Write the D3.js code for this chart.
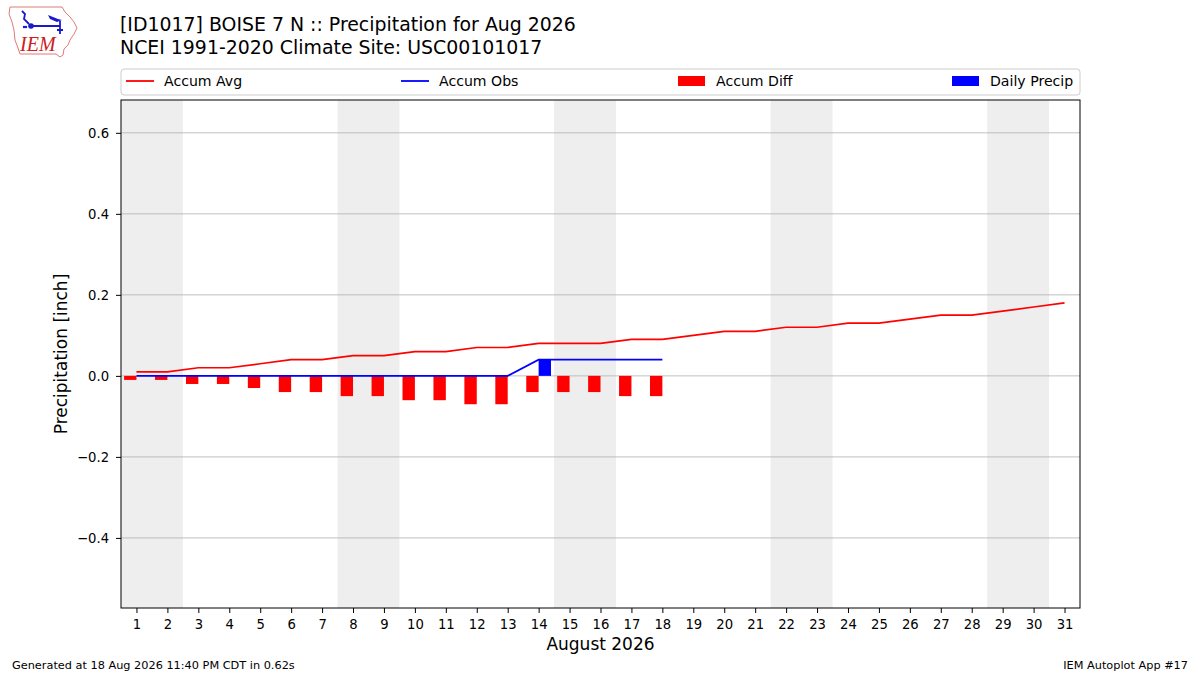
<!DOCTYPE html>
<html>
<head>
<meta charset="utf-8">
<script src="https://cdn.jsdelivr.net/npm/d3@7"></script>
<style>
  body { margin: 0; background: #fff; }
  svg { font-family: "DejaVu Sans", sans-serif; }
</style>
</head>
<body>
<svg id="chart" width="1200" height="675"></svg>
<script>
// values
const days = d3.range(1, 32);
const accumAvg = [0.01, 0.01, 0.02, 0.02, 0.03, 0.04, 0.04, 0.05, 0.05, 0.06, 0.06, 0.07, 0.07, 0.08, 0.08, 0.08,
  0.09, 0.09, 0.10, 0.11, 0.11, 0.12, 0.12, 0.13, 0.13, 0.14, 0.15, 0.15, 0.16, 0.17, 0.18];
const accumObs = [0, 0, 0, 0, 0, 0, 0, 0, 0, 0, 0, 0, 0, 0.04, 0.04, 0.04, 0.04, 0.04];
const dailyPrecip = [0, 0, 0, 0, 0, 0, 0, 0, 0, 0, 0, 0, 0, 0.04, 0, 0, 0, 0];
const weekends = [[1, 2], [8, 9], [15, 16], [22, 23], [29, 30]];
const yTicks = [-0.4, -0.2, 0.0, 0.2, 0.4, 0.6];
const legendItems = [
  { label: "Accum Avg", kind: "line", color: "red" },
  { label: "Accum Obs", kind: "line", color: "blue" },
  { label: "Accum Diff", kind: "patch", color: "red" },
  { label: "Daily Precip", kind: "patch", color: "blue" }
];

const svg = d3.select("#chart");
const pLeft = 121, pRight = 1080, pTop = 100, pBottom = 608;

const x = d3.scaleLinear().domain([0.5, 31.5]).range([pLeft, pRight]);
const y = d3.scaleLinear().domain([-0.573, 0.681]).range([pBottom, pTop]);

// weekend shading
svg.append("g").selectAll("rect").data(weekends).join("rect")
  .attr("x", d => x(d[0] - 0.5))
  .attr("width", d => x(d[1] + 0.5) - x(d[0] - 0.5))
  .attr("y", pTop).attr("height", pBottom - pTop)
  .attr("fill", "#eeeeee");

// grid
svg.append("g").selectAll("line").data(yTicks).join("line")
  .attr("x1", pLeft).attr("x2", pRight)
  .attr("y1", d => y(d)).attr("y2", d => y(d))
  .attr("stroke", "#b0b0b0").attr("stroke-width", 0.8);

// accum diff bars (left of day)
const diffs = accumObs.map((v, i) => +(v - accumAvg[i]).toFixed(2));
svg.append("g").selectAll("rect").data(diffs).join("rect")
  .attr("x", (d, i) => x(i + 1 - 0.4))
  .attr("width", x(1.4) - x(1))
  .attr("y", d => y(Math.max(0, d)))
  .attr("height", d => Math.abs(y(d) - y(0)))
  .attr("fill", "red");

// daily precip bars (right of day)
svg.append("g").selectAll("rect").data(dailyPrecip).join("rect")
  .attr("x", (d, i) => x(i + 1))
  .attr("width", x(1.4) - x(1))
  .attr("y", d => y(Math.max(0, d)))
  .attr("height", d => Math.abs(y(d) - y(0)))
  .attr("fill", "blue");

const line = d3.line().x((d, i) => x(i + 1)).y(d => y(d));
svg.append("path").datum(accumAvg).attr("d", line)
  .attr("fill", "none").attr("stroke", "red").attr("stroke-width", 1.7);
svg.append("path").datum(accumObs).attr("d", line)
  .attr("fill", "none").attr("stroke", "blue").attr("stroke-width", 1.7);

// axes
const xAxis = svg.append("g").attr("transform", `translate(0,${pBottom})`)
  .call(d3.axisBottom(x).tickValues(days).tickFormat(d3.format("d")).tickSize(5).tickPadding(2).tickSizeOuter(0));
const yAxis = svg.append("g").attr("transform", `translate(${pLeft},0)`)
  .call(d3.axisLeft(y).tickValues(yTicks).tickFormat(d3.format(".1f")).tickSize(5).tickPadding(5).tickSizeOuter(0));
[xAxis, yAxis].forEach(g => {
  g.select(".domain").remove();
  g.selectAll("text").attr("font-size", 13.2).attr("fill", "#000").attr("font-family", "DejaVu Sans");
  g.selectAll("line").attr("stroke", "#000");
});
xAxis.selectAll("text").attr("dy", "1.05em");
yAxis.selectAll("text").attr("dx", "-0.15em");

svg.append("rect").attr("x", pLeft).attr("y", pTop)
  .attr("width", pRight - pLeft).attr("height", pBottom - pTop)
  .attr("fill", "none").attr("stroke", "#000").attr("stroke-width", 1);

svg.append("text").attr("x", (pLeft + pRight) / 2).attr("y", 650)
  .attr("text-anchor", "middle").attr("font-size", 17).text("August 2026");
svg.append("text").attr("transform", `translate(67,${(pTop + pBottom) / 2}) rotate(-90)`)
  .attr("text-anchor", "middle").attr("font-size", 17).text("Precipitation [inch]");

// titles
svg.append("text").attr("x", 120).attr("y", 31).attr("font-size", 18.9)
  .text("[ID1017] BOISE 7 N :: Precipitation for Aug 2026");
svg.append("text").attr("x", 120).attr("y", 54).attr("font-size", 18.9)
  .text("NCEI 1991-2020 Climate Site: USC00101017");

// legend
const lg = svg.append("g");
lg.append("rect").attr("x", 121).attr("y", 69).attr("width", 959).attr("height", 26)
  .attr("rx", 3).attr("fill", "#fff").attr("stroke", "#cccccc");
const legendX = [126, 401, 678, 952];
legendItems.forEach((d, i) => {
  const lx = legendX[i];
  if (d.kind === "line") {
    lg.append("line").attr("x1", lx).attr("x2", lx + 28).attr("y1", 81).attr("y2", 81)
      .attr("stroke", d.color).attr("stroke-width", 1.8);
  } else {
    lg.append("rect").attr("x", lx).attr("y", 76).attr("width", 27).attr("height", 10).attr("fill", d.color);
  }
  lg.append("text").attr("x", lx + 38).attr("y", 86).attr("font-size", 14.1).text(d.label);
});

// footer
svg.append("text").attr("x", 12).attr("y", 669).attr("font-size", 11.3)
  .text("Generated at 18 Aug 2026 11:40 PM CDT in 0.62s");
svg.append("text").attr("x", 1188).attr("y", 669).attr("font-size", 11.3).attr("text-anchor", "end")
  .text("IEM Autoplot App #17");

// logo (rough sketch of the IEM mark)
const logo = svg.append("g");
logo.append("path")
  .attr("d", "M10,7 L62,7 L65,12 L70,17 L74,22 L77,28 L74,34 L70,40 L68,45 L64,49 L63,55 L60,57 L56,54 L20,54 L18,48 L15,40 L14,30 L12,22 L9,14 Z")
  .attr("fill", "#fff").attr("stroke", "#e07a7a").attr("stroke-width", 1);
logo.append("path").attr("d", "M31,26 L60,26 M60,21 L60,34 M57,30 L63,30 M22,11 L25,14 L24,19 L29,24")
  .attr("fill", "none").attr("stroke", "#1a1acc").attr("stroke-width", 1.8);
logo.append("path").attr("d", "M48,15 L58,19 L62,20 L57,22 L50,19 Z").attr("fill", "#1a1acc");
logo.append("circle").attr("cx", 31).attr("cy", 26).attr("r", 2.8).attr("fill", "#1a1acc");
logo.append("circle").attr("cx", 24).attr("cy", 27).attr("r", 1.2).attr("fill", "#1a1acc");
logo.append("circle").attr("cx", 26).attr("cy", 27).attr("r", 1.2).attr("fill", "#1a1acc");
logo.append("text").attr("x", 20).attr("y", 51).attr("font-family", "Liberation Serif, serif")
  .attr("font-style", "italic").attr("font-size", 20).attr("fill", "#cc2020").text("IEM");
</script>
</body>
</html>
